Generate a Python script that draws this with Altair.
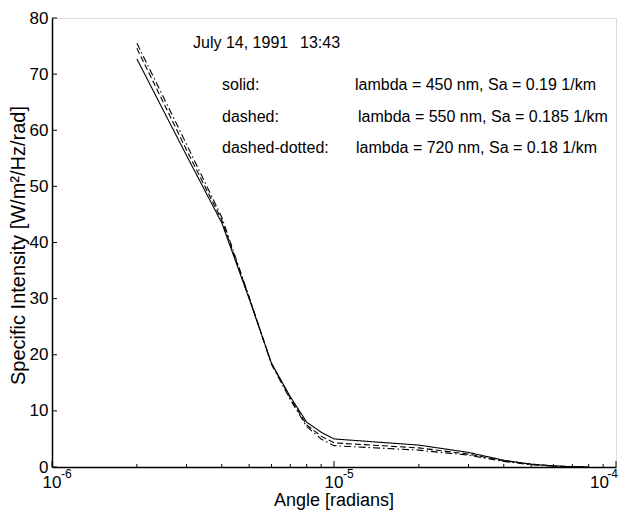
import altair as alt
import pandas as pd

# ---- data ----
angles = [2e-6, 3e-6, 4e-6, 5e-6, 6e-6, 7e-6, 8e-6, 9e-6, 1e-5, 2e-5, 3e-5, 4e-5, 5e-5, 6e-5, 7e-5, 8e-5]
solid = [72.7, 55.5, 43.5, 30.0, 18.5, 12.5, 8.0, 6.2, 5.0, 3.9, 2.6, 1.2, 0.5, 0.2, 0.05, 0.0]
dashed = [74.6, 56.5, 44.0, 30.2, 18.5, 12.3, 7.5, 5.5, 4.3, 3.4, 2.3, 1.1, 0.5, 0.2, 0.05, 0.0]
dashdot = [75.5, 57.5, 44.5, 30.3, 18.3, 12.0, 7.2, 5.0, 3.8, 3.0, 2.1, 1.0, 0.4, 0.15, 0.05, 0.0]

series_names = ["solid", "dashed", "dashed-dotted"]
series_values = [solid, dashed, dashdot]

x_major = [1e-6, 1e-5, 1e-4]
x_major_exp = ["-6", "-5", "-4"]
x_minor = [2e-6, 3e-6, 4e-6, 5e-6, 6e-6, 7e-6, 8e-6, 9e-6,
           2e-5, 3e-5, 4e-5, 5e-5, 6e-5, 7e-5, 8e-5, 9e-5]
y_ticks = [0, 10, 20, 30, 40, 50, 60, 70, 80]

x_title = "Angle [radians]"
y_title = "Specific Intensity [W/m²/Hz/rad]"
title_date = "July 14, 1991"
title_time = "13:43"
legend_keys = ["solid:", "dashed:", "dashed-dotted:"]
legend_desc = ["lambda = 450 nm, Sa = 0.19 1/km",
               "lambda = 550 nm, Sa = 0.185 1/km",
               "lambda = 720 nm, Sa = 0.18 1/km"]

# ---- build tables ----
rows = []
for name, vals in zip(series_names, series_values):
    for a, v in zip(angles, vals):
        rows.append({"angle": a, "value": v, "series": name})
df = pd.DataFrame(rows)

W, H = 564, 449
FONT = "Liberation Sans"

xscale = alt.Scale(type="log", domain=[1e-6, 1e-4])
yscale = alt.Scale(domain=[0, 80])

x_axis = alt.Axis(values=x_major, labels=False, ticks=False, grid=False,
                  domainColor="black", domainWidth=1.5, title=None)
y_axis = alt.Axis(
    values=y_ticks, ticks=False, grid=False, domainColor="black", domainWidth=1.5,
    labelFont=FONT, labelFontSize=17, labelColor="black", labelPadding=4,
    title=None,
)

lines = alt.Chart(df).mark_line(color="black", strokeWidth=1.1).encode(
    x=alt.X("angle:Q", scale=xscale, axis=x_axis),
    y=alt.Y("value:Q", scale=yscale, axis=y_axis),
    strokeDash=alt.StrokeDash(
        "series:N",
        scale=alt.Scale(domain=series_names, range=[[1, 0], [6, 3], [7, 3, 1.5, 3]]),
        legend=None,
    ),
    detail="series:N",
)

xmaj_df = pd.DataFrame({"t": x_major, "e": x_major_exp})
xmin_df = pd.DataFrame({"t": x_minor})
yt_df = pd.DataFrame({"t": y_ticks})

xmaj_ticks = alt.Chart(xmaj_df).mark_rule(color="black", strokeWidth=1).encode(
    x=alt.X("t:Q", scale=xscale), y=alt.value(H), y2=alt.value(H - 6))
xmin_ticks = alt.Chart(xmin_df).mark_rule(color="black", strokeWidth=1).encode(
    x=alt.X("t:Q", scale=xscale), y=alt.value(H), y2=alt.value(H - 3))
ytick_rules = alt.Chart(yt_df).mark_rule(color="black", strokeWidth=1).encode(
    y=alt.Y("t:Q", scale=yscale), x=alt.value(0), x2=alt.value(5))

# x tick labels: "10" with a raised exponent
inner = xmaj_df.iloc[:-1]
last = xmaj_df.iloc[-1:]
base_lbl = alt.Chart(inner).mark_text(
    font=FONT, fontSize=17, color="black", align="center", baseline="middle"
).encode(x=alt.X("t:Q", scale=xscale), y=alt.value(H + 16), text=alt.value("10"))
exp_lbl = alt.Chart(inner).mark_text(
    font=FONT, fontSize=12, color="black", align="left", baseline="middle", dx=9
).encode(x=alt.X("t:Q", scale=xscale), y=alt.value(H + 7), text="e:N")
base_last = alt.Chart(last).mark_text(
    font=FONT, fontSize=17, color="black", align="right", baseline="middle", dx=-7
).encode(x=alt.X("t:Q", scale=xscale), y=alt.value(H + 16), text=alt.value("10"))
exp_last = alt.Chart(last).mark_text(
    font=FONT, fontSize=12, color="black", align="right", baseline="middle", dx=2
).encode(x=alt.X("t:Q", scale=xscale), y=alt.value(H + 7), text="e:N")


def txt(s, x, y, size=16, align="left", baseline="middle", angle=0):
    return alt.Chart(pd.DataFrame({"s": [s]})).mark_text(
        align=align, baseline=baseline, font=FONT, fontSize=size, color="black", angle=angle
    ).encode(text="s:N", x=alt.value(x), y=alt.value(y))


annots = [txt(title_date, 141, 25), txt(title_time, 248, 25)]
key_y = [67, 99, 130]
desc_x = [303, 306, 304]
for k, d, yy, dx in zip(legend_keys, legend_desc, key_y, desc_x):
    annots.append(txt(k, 170, yy))
    annots.append(txt(d, dx, yy))

annots.append(txt(x_title, W / 2, H + 39, size=18, align="center", baseline="alphabetic"))
annots.append(txt(y_title, -33, H / 2 + 3, size=20, align="center", baseline="middle", angle=270))

chart = alt.layer(lines, xmaj_ticks, xmin_ticks, ytick_rules,
                  base_lbl, exp_lbl, base_last, exp_last, *annots).properties(
    width=W, height=H,
    autosize=alt.AutoSizeParams(type="none"),
    padding={"left": 44, "top": 10, "right": 3, "bottom": 43},
).configure_view(stroke=None).configure(background="white")

chart.save("out.html", embed_options={"renderer": "svg", "actions": False})
